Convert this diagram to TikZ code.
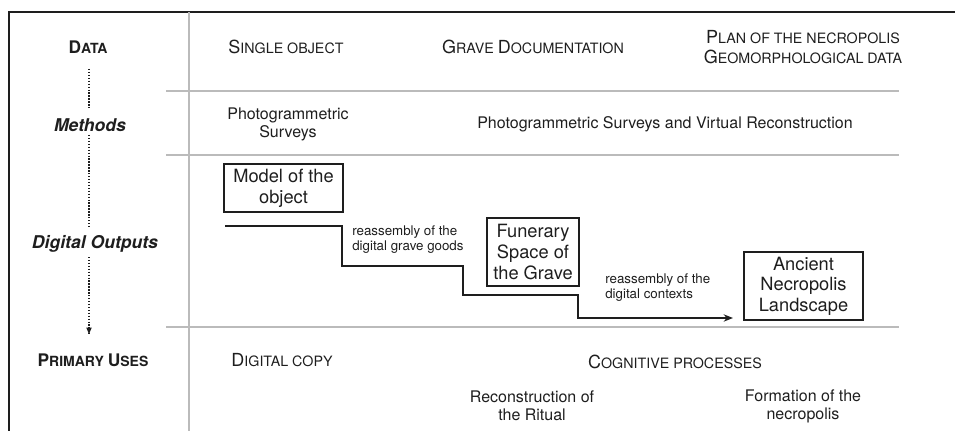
\documentclass[tikz,border=0pt]{standalone}
\usepackage{fontspec}
\setmainfont{TeX Gyre Heros}
\usetikzlibrary{arrows.meta}
\definecolor{ink}{HTML}{1E1E1E}
\definecolor{rulegray}{HTML}{BBBBBB}
\newcommand\smcB[2]{{\fontsize{13.5}{15}\selectfont #1}{\fontsize{10.7}{15}\selectfont #2}}
\newcommand\smcL[2]{{\fontsize{13}{15}\selectfont\bfseries #1}{\fontsize{10.5}{15}\selectfont\bfseries #2}}
\begin{document}
\begin{tikzpicture}[x=0.75pt,y=-0.75pt,text=ink,
  lbl/.style={font=\fontsize{13.2}{15}\selectfont\bfseries\itshape},
  capt/.style={align=center,inner sep=1pt},
  body/.style={font=\fontsize{12}{13.5}\selectfont,align=center,inner sep=1pt},
  smalltxt/.style={font=\fontsize{10}{11.3}\selectfont,align=left,anchor=west,inner sep=0pt},
  outbox/.style={draw=ink,line width=0.8pt,align=center,font=\fontsize{13.7}{15.5}\selectfont,inner sep=0pt},
  frame/.style={draw=ink,line width=0.9pt},
  grid/.style={draw=rulegray,line width=0.8pt},
  dotline/.style={draw=ink,line width=1.1pt,dash pattern=on 1pt off 1.2pt},
  stair/.style={draw=ink,line width=1.3pt,-{Stealth[length=7pt,width=5.5pt]}}]
\useasboundingbox (0,0) rectangle (955,431);
% frame and rules
\draw[frame] (955,12) -- (9,12) -- (9,431);
\draw[grid] (189,12) -- (189,431);
\draw[grid] (166,91) -- (899,91);
\draw[grid] (166,155) -- (899,155);
\draw[grid] (166,327) -- (899,327);
% left column
\node[capt] (data) at (88,47) {\smcL{D}{ATA}};
\node[lbl] (methods) at (90,125) {Methods};
\node[lbl] (outputs) at (95,244) {Digital Outputs};
\node[capt] (uses) at (93,360) {\smcL{P}{RIMARY }\smcL{U}{SES}};
\coordinate (a1) at (89,69);
\coordinate (a2) at (89,110);
\coordinate (a3) at (89,135);
\coordinate (a4) at (89,227);
\coordinate (a5) at (89,257);
\coordinate (a6) at (89,334);
\draw[dotline] (a1) -- (a2);
\draw[dotline] (a3) -- (a4);
\draw[dotline] (a5) -- (a6);
\fill[ink] (a6) -- ++(-2.8,-6.5) -- ++(5.6,0) -- cycle;
% data row
\node[capt] (single) at (286,47) {\smcB{S}{INGLE OBJECT}};
\node[capt] (grave) at (533,47) {\smcB{G}{RAVE }\smcB{D}{OCUMENTATION}};
\node[capt,font=\fontsize{10.7}{15}\selectfont] (plan) at (803,47) {\smcB{P}{LAN OF THE NECROPOLIS}\\\smcB{G}{EOMORPHOLOGICAL DATA}};
% methods row
\node[body] (photo) at (288,124) {Photogrammetric\\Surveys};
\node[body] (photovr) at (665,124) {Photogrammetric Surveys and Virtual Reconstruction};
% digital outputs
\node[outbox,minimum width=89.25pt,minimum height=36pt] (model) at (283.5,188) {Model of the\\object};
\node[outbox,minimum width=69pt,minimum height=51pt] (funerary) at (533,252) {Funerary\\Space of\\the Grave};
\node[outbox,minimum width=89.25pt,minimum height=51pt] (ancient) at (803.5,286) {Ancient\\Necropolis\\Landscape};
\node[smalltxt] (re1) at (352,240) {reassembly of the\\digital grave goods};
\node[smalltxt] (re2) at (605,288) {reassembly of the\\digital contexts};
\coordinate (s0) at (225,226);
\coordinate (c1) at (342,266);
\coordinate (c2) at (463,295);
\coordinate (c3) at (578,318);
\coordinate (s1) at (733,318);
\draw[stair] (s0) -| (c1) -| (c2) -| (c3) -- (s1);
% primary uses
\node[capt] (copy) at (282,360) {\smcB{D}{IGITAL COPY}};
\node[capt] (cog) at (675,362) {\smcB{C}{OGNITIVE PROCESSES}};
\node[body] (ritual) at (532,406) {Reconstruction of\\the Ritual};
\node[body] (formation) at (803,406) {Formation of the\\necropolis};
\end{tikzpicture}
\end{document}
